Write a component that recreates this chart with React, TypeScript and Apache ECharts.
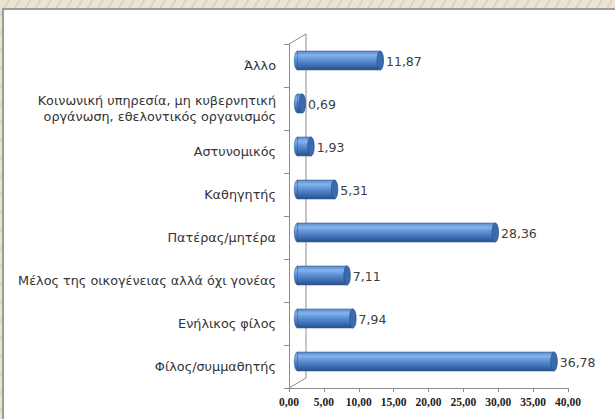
import React, { useEffect, useRef } from "react";
import * as echarts from "echarts";

const categories = [
  "Φίλος/συμμαθητής",
  "Ενήλικος φίλος",
  "Μέλος της οικογένειας αλλά όχι γονέας",
  "Πατέρας/μητέρα",
  "Καθηγητής",
  "Αστυνομικός",
  "Κοινωνική υπηρεσία, μη κυβερνητική\nοργάνωση, εθελοντικός οργανισμός",
  "Άλλο",
];
const values = [36.78, 7.94, 7.11, 28.36, 5.31, 1.93, 0.69, 11.87];
const axisMin = 0;
const axisMax = 40;
const axisStep = 5;

const fmt = (v: number) => v.toFixed(2).replace(".", ",");

const GRID = { left: 289, top: 44, right: 47, bottom: 31 };
const DEPTH_X = 17;
const DEPTH_Y = -10;
const W = 615;
const H = 419;

export default function App() {
  const ref = useRef<HTMLDivElement>(null);
  useEffect(() => {
    if (!ref.current) return;
    const chart = echarts.init(ref.current, null, { renderer: "svg" });
    const frameColor = "#8c8c8c";
    const fx = GRID.left;
    const fTop = GRID.top;
    const fBot = H - GRID.bottom;
    const bodyFill = new echarts.graphic.LinearGradient(0, 0, 0, 1, [
      { offset: 0, color: "#5687c9" },
      { offset: 0.22, color: "#86b4ec" },
      { offset: 0.45, color: "#5f93d8" },
      { offset: 0.8, color: "#3a69ad" },
      { offset: 1, color: "#274e88" },
    ]);
    const option: any = {
      animation: false,
      grid: { left: GRID.left, top: GRID.top, right: GRID.right, bottom: GRID.bottom, containLabel: false },
      xAxis: {
        type: "value",
        min: axisMin,
        max: axisMax,
        interval: axisStep,
        splitLine: { show: false },
        axisLine: { show: true, lineStyle: { color: frameColor, width: 1 } },
        axisTick: { show: true, length: 4, lineStyle: { color: frameColor } },
        axisLabel: {
          formatter: (v: number) => fmt(v),
          fontFamily: "Liberation Serif",
          fontWeight: "bold",
          fontSize: 11.5,
          color: "#222",
          margin: 8,
        },
      },
      yAxis: {
        type: "category",
        data: categories,
        axisLine: { show: true, lineStyle: { color: frameColor, width: 1 } },
        axisTick: { show: true, length: 5, lineStyle: { color: frameColor } },
        axisLabel: {
          fontFamily: "DejaVu Sans",
          fontSize: 12.8,
          color: "#333",
          margin: 13,
          lineHeight: 16,
          align: "right",
        },
      },
      graphic: [
        { type: "line", z: 0, shape: { x1: fx, y1: fTop, x2: fx + DEPTH_X, y2: fTop + DEPTH_Y }, style: { stroke: frameColor, lineWidth: 1 } },
        { type: "line", z: 0, shape: { x1: fx + DEPTH_X, y1: fTop + DEPTH_Y, x2: fx + DEPTH_X, y2: fBot + DEPTH_Y }, style: { stroke: frameColor, lineWidth: 1 } },
        { type: "line", z: 0, shape: { x1: fx, y1: fBot, x2: fx + DEPTH_X, y2: fBot + DEPTH_Y }, style: { stroke: frameColor, lineWidth: 1 } },
      ],
      series: [
        {
          type: "custom",
          z: 5,
          encode: { x: 0, y: 1 },
          data: values.map((v, i) => [v, i]),
          renderItem: (params: any, api: any) => {
            const val = api.value(0);
            const cat = api.value(1);
            const p0 = api.coord([0, cat]);
            const p1 = api.coord([val, cat]);
            const band = api.size([0, 1])[1];
            const h = band * 0.44;
            const dx = DEPTH_X / 2;
            const dy = DEPTH_Y / 2;
            const x0 = p0[0] + dx;
            const x1 = p1[0] + dx;
            const cy = p0[1] + dy;
            const rx = 3.2;
            return {
              type: "group",
              children: [
                {
                  type: "ellipse",
                  shape: { cx: x0, cy, rx, ry: h / 2 },
                  style: { fill: bodyFill, stroke: "#35609f", lineWidth: 0.6 },
                },
                {
                  type: "rect",
                  shape: { x: x0, y: cy - h / 2, width: Math.max(0, x1 - x0), height: h },
                  style: { fill: bodyFill, stroke: "#35609f", lineWidth: 0.6 },
                },
                {
                  type: "ellipse",
                  shape: { cx: x1, cy, rx, ry: h / 2 },
                  style: { fill: "#3b6aae", stroke: "#2a528c", lineWidth: 0.8 },
                },
                {
                  type: "text",
                  x: x1 + rx + 2.5,
                  y: cy + 1,
                  style: {
                    text: fmt(val),
                    fill: "#404040",
                    font: "12.5px 'DejaVu Sans'",
                    textVerticalAlign: "middle",
                    textAlign: "left",
                  },
                },
              ],
            };
          },
        },
      ],
    };
    chart.setOption(option);
    return () => chart.dispose();
  }, []);

  return (
    <div style={{ position: "fixed", left: 0, top: 0, width: W, height: H, overflow: "hidden", background: "repeating-linear-gradient(120deg, #ebe4d3 0px, #ebe4d3 7px, #ddd4bf 7px, #ddd4bf 9px)" }}>
      <div style={{ position: "absolute", left: 2, top: 8, width: W - 2, height: H - 8, background: "#fff", borderTop: "2px solid #9c9c9c", borderLeft: "2px solid #9c9c9c", boxSizing: "border-box" }} />
      <div ref={ref} style={{ position: "absolute", left: 0, top: 0, width: W, height: H }} />
    </div>
  );
}
